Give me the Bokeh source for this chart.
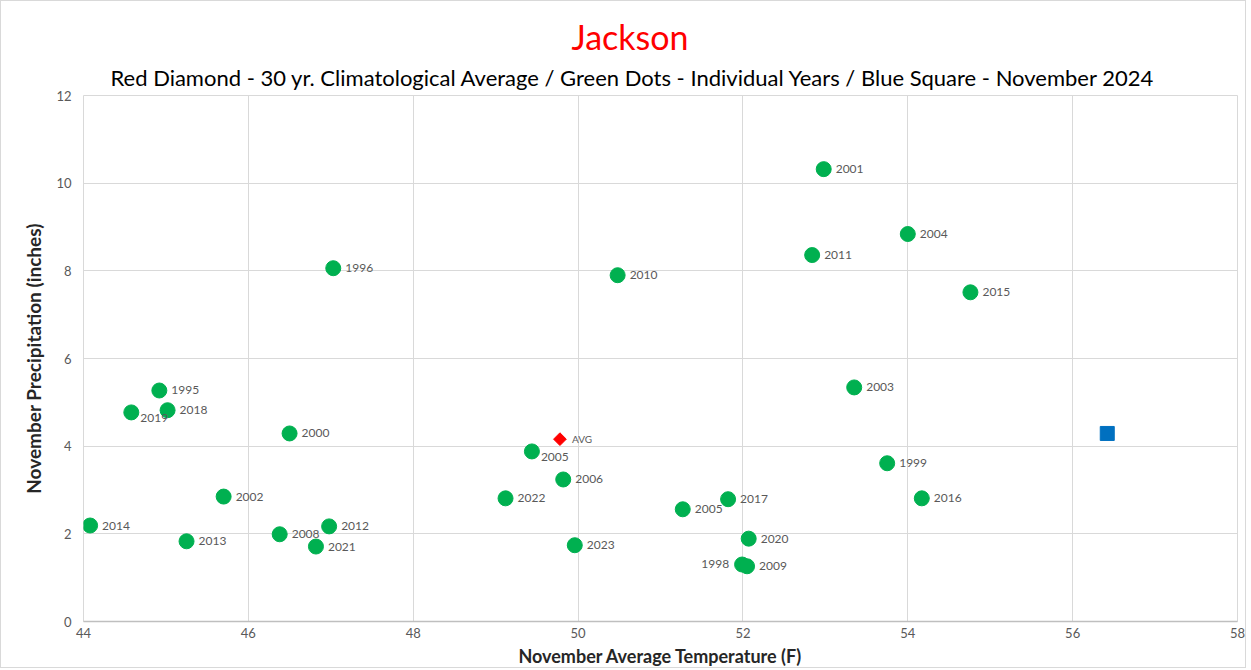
import math
from bokeh.plotting import figure
from bokeh.models import Title, ColumnDataSource, FixedTicker, LabelSet
from bokeh.embed import file_html
from bokeh.resources import INLINE
from bokeh.core.properties import value

# ---- data ----
years = ["2014", "2019", "1995", "2018", "2013", "2002", "2008", "2000", "2012", "2021",
         "1996", "2022", "2005", "2006", "2023", "2010", "2005", "2017", "2020", "1998",
         "2009", "2011", "2001", "2003", "2004", "1999", "2016", "2015"]
temps = [44.08, 44.58, 44.92, 45.02, 45.25, 45.70, 46.38, 46.50, 46.98, 46.82,
         47.03, 49.12, 49.44, 49.82, 49.96, 50.48, 51.27, 51.82, 52.07, 51.99,
         52.05, 52.84, 52.98, 53.35, 54.00, 53.75, 54.17, 54.76]
precip = [2.19, 4.77, 5.27, 4.82, 1.83, 2.85, 1.99, 4.29, 2.17, 1.71,
          8.06, 2.81, 3.88, 3.24, 1.74, 7.90, 2.56, 2.79, 1.89, 1.30,
          1.26, 8.36, 10.32, 5.34, 8.84, 3.61, 2.81, 7.51]
label_side = ["r", "br", "r", "r", "r", "r", "r", "r", "r", "r",
              "r", "r", "br", "r", "r", "r", "r", "r", "r", "l",
              "r", "r", "r", "r", "r", "r", "r", "r"]
avg_temp = [49.78]
avg_precip = [4.16]
avg_label = ["AVG"]
cur_temp = [56.42]
cur_precip = [4.29]

x_ticks = [44, 46, 48, 50, 52, 54, 56, 58]
y_ticks = [0, 2, 4, 6, 8, 10, 12]

FONT = "Lato"
GRID = "#d9d9d9"

p = figure(width=1246, height=668, x_range=(44, 58), y_range=(0, 12),
           output_backend="svg", toolbar_location=None,
           min_border_left=82, min_border_right=10, min_border_top=94, min_border_bottom=48)
p.styles = {"border": "1px solid #d9d9d9"}

sub = Title(text="Red Diamond - 30 yr. Climatological Average / Green Dots - Individual Years / Blue Square - November 2024",
            align="left", text_font=FONT, text_font_size="22px", text_font_style="normal",
            text_color="#000000", standoff=10, offset=27)
p.add_layout(sub, "above")
main = Title(text="Jackson", align="left", text_font=FONT, text_font_size="34px",
             text_font_style="normal", text_color="#ff0000", standoff=0, offset=488)
p.add_layout(main, "above")
p.title.visible = False

# axes
p.xaxis.ticker = FixedTicker(ticks=x_ticks)
p.yaxis.ticker = FixedTicker(ticks=y_ticks)
for ax in (p.xaxis[0], p.yaxis[0]):
    ax.major_tick_line_color = None
    ax.minor_tick_line_color = None
    ax.major_tick_out = 0
    ax.major_tick_in = 0
    ax.minor_tick_out = 0
    ax.minor_tick_in = 0
    ax.major_label_text_font = FONT
    ax.major_label_text_font_size = "13px"
    ax.major_label_text_color = "#595959"
    ax.axis_label_text_font = FONT
    ax.axis_label_text_font_style = "bold"
    ax.axis_label_text_color = "#262626"
p.xaxis.axis_label_text_font_size = "18px"
p.yaxis.axis_label_text_font_size = "19px"
p.xaxis.axis_label = "November Average Temperature (F)"
p.yaxis.axis_label = "November Precipitation (inches)"
p.xaxis.axis_line_color = "#bfbfbf"
p.xaxis.axis_line_width = 1.5
p.yaxis.axis_line_color = None
p.xaxis.major_label_standoff = 6
p.xaxis.axis_label_standoff = 4
p.yaxis.major_label_standoff = 12
p.yaxis.axis_label_standoff = 8

p.xgrid.grid_line_color = GRID
p.ygrid.grid_line_color = GRID
p.outline_line_color = GRID

def subset(side):
    idx = [i for i, s in enumerate(label_side) if s == side]
    return ColumnDataSource(dict(x=[temps[i] for i in idx], y=[precip[i] for i in idx],
                                 t=[years[i] for i in idx]))

src_all = ColumnDataSource(dict(x=temps, y=precip, t=years))
p.scatter("x", "y", source=src_all, marker="circle", size=15,
          fill_color="#00b050", line_color="#00b050")

for side, xo, yo, align, base in [("r", 12, 0, "left", "middle"),
                                  ("br", 9, -6, "left", "middle"),
                                  ("l", -13, 1, "right", "middle")]:
    s = subset(side)
    p.add_layout(LabelSet(x="x", y="y", text="t", source=s, x_offset=xo, y_offset=yo,
                          text_align=align, text_baseline=base, text_font=value(FONT),
                          text_font_size="12px", text_color="#595959"))

avg_src = ColumnDataSource(dict(x=avg_temp, y=avg_precip, t=avg_label))
p.scatter("x", "y", source=avg_src, marker="square", size=9, angle=math.pi / 4,
          fill_color="#ff0000", line_color="#ff0000")
p.add_layout(LabelSet(x="x", y="y", text="t", source=avg_src, x_offset=12, y_offset=0,
                      text_align="left", text_baseline="middle", text_font=value(FONT),
                      text_font_size="10px", text_color="#595959"))

cur_src = ColumnDataSource(dict(x=cur_temp, y=cur_precip))
p.scatter("x", "y", source=cur_src, marker="square", size=14,
          fill_color="#0070c0", line_color="#0070c0")

open("out.html", "w").write(file_html(p, INLINE))
